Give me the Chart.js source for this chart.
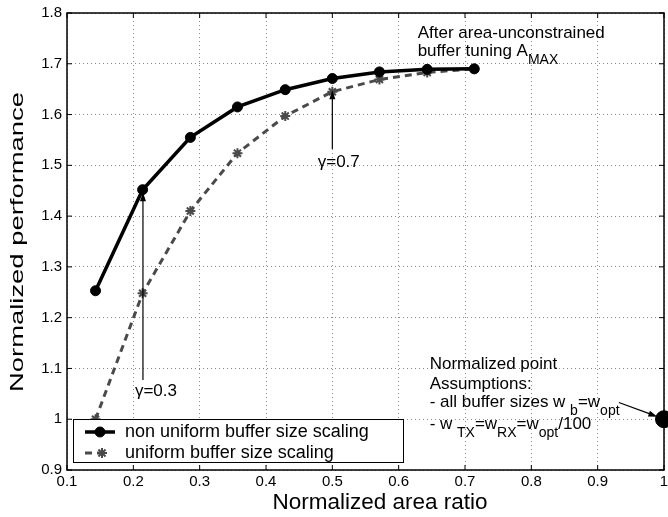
<!DOCTYPE html>
<html>
<head>
<meta charset="utf-8">
<script src="https://cdn.jsdelivr.net/npm/chart.js@4.4.1/dist/chart.umd.min.js"></script>
<style>
  html, body { margin: 0; padding: 0; background: #fff; }
</style>
</head>
<body>
<canvas id="chart" width="668" height="517"></canvas>
<script>
// data
const areaRatio = [0.143, 0.214, 0.286, 0.357, 0.429, 0.5, 0.571, 0.643, 0.714];
const nonUniformPerf = [1.253, 1.452, 1.555, 1.615, 1.649, 1.671, 1.684, 1.689, 1.69];
const uniformPerf = [1.0, 1.248, 1.41, 1.524, 1.597, 1.645, 1.669, 1.683, 1.69];
const normPointX = [1.0];
const normPointY = [1.0];

const xTicks = [0.1, 0.2, 0.3, 0.4, 0.5, 0.6, 0.7, 0.8, 0.9, 1.0];
const yTicks = [0.9, 1.0, 1.1, 1.2, 1.3, 1.4, 1.5, 1.6, 1.7, 1.8];

const seriesLabels = ["non uniform buffer size scaling", "uniform buffer size scaling"];
const xTitle = "Normalized area ratio";
const yTitle = "Normalized performance";

const FONT = "'Liberation Sans', Arial, Helvetica, sans-serif";

const fmt = (v) => String(Number(v.toFixed(1)));

// small text helper: segments are [text, isSubscript]
function drawRich(ctx, x, y, parts, size) {
  let cx = x;
  parts.forEach(([txt, sub]) => {
    ctx.font = (sub ? size - 3 : size) + "px " + FONT;
    ctx.fillText(txt, cx, sub ? y + 8 : y);
    cx += ctx.measureText(txt).width;
  });
}

function arrow(ctx, x1, y1, x2, y2) {
  const ang = Math.atan2(y2 - y1, x2 - x1);
  const len = 9, half = 3;
  ctx.beginPath();
  ctx.moveTo(x1, y1);
  ctx.lineTo(x2 - Math.cos(ang) * len * 0.8, y2 - Math.sin(ang) * len * 0.8);
  ctx.stroke();
  ctx.beginPath();
  ctx.moveTo(x2, y2);
  ctx.lineTo(x2 - Math.cos(ang) * len - Math.sin(ang) * half, y2 - Math.sin(ang) * len + Math.cos(ang) * half);
  ctx.lineTo(x2 - Math.cos(ang) * len + Math.sin(ang) * half, y2 - Math.sin(ang) * len - Math.cos(ang) * half);
  ctx.closePath();
  ctx.fill();
}

const matlabLook = {
  id: "matlabLook",
  afterDraw(chart) {
    const { ctx, chartArea: a, scales: { x, y } } = chart;
    ctx.save();
    ctx.strokeStyle = "#000";
    ctx.fillStyle = "#000";

    // box + inward ticks
    ctx.lineWidth = 1.5;
    ctx.strokeRect(a.left, a.top, a.right - a.left, a.bottom - a.top);
    ctx.lineWidth = 1;
    ctx.beginPath();
    xTicks.forEach((v) => {
      const px = x.getPixelForValue(v);
      ctx.moveTo(px, a.bottom); ctx.lineTo(px, a.bottom - 5);
      ctx.moveTo(px, a.top); ctx.lineTo(px, a.top + 5);
    });
    yTicks.forEach((v) => {
      const py = y.getPixelForValue(v);
      ctx.moveTo(a.left, py); ctx.lineTo(a.left + 5, py);
      ctx.moveTo(a.right, py); ctx.lineTo(a.right - 5, py);
    });
    ctx.stroke();

    // annotations
    const X = (v) => x.getPixelForValue(v);
    const Y = (v) => y.getPixelForValue(v);
    ctx.textBaseline = "alphabetic";
    ctx.textAlign = "left";
    drawRich(ctx, X(0.6286), Y(1.751), [["After area-unconstrained", false]], 17);
    drawRich(ctx, X(0.6286), Y(1.716), [["buffer tuning A", false], ["MAX", true]], 17);

    drawRich(ctx, X(0.478), Y(1.497), [["\u03b3=0.7", false]], 17);
    ctx.lineWidth = 1.2;
    arrow(ctx, X(0.5), Y(1.532), X(0.5), Y(1.648));

    drawRich(ctx, X(0.2024), Y(1.045), [["\u03b3=0.3", false]], 17);
    arrow(ctx, X(0.2145), Y(1.077), X(0.2145), Y(1.447));

    drawRich(ctx, X(0.6467), Y(1.098), [["Normalized point", false]], 17);
    drawRich(ctx, X(0.6467), Y(1.059), [["Assumptions:", false]], 17);
    drawRich(ctx, X(0.6467), Y(1.024), [["- all buffer sizes w ", false], ["b", true], ["=w", false], ["opt", true]], 17);
    drawRich(ctx, X(0.6467), Y(0.980), [["- w ", false], ["TX", true], ["=w", false], ["RX", true], ["=w", false], ["opt", true], ["/100", false]], 17);
    arrow(ctx, X(0.932), Y(1.033), X(0.99), Y(1.005));

    // legend box
    const lx = 73, ly = 419, lw = 330, lh = 43;
    ctx.fillStyle = "#fff";
    ctx.fillRect(lx, ly, lw, lh);
    ctx.lineWidth = 1;
    ctx.strokeStyle = "#000";
    ctx.strokeRect(lx + 0.5, ly + 0.5, lw, lh);
    const ds = chart.data.datasets;
    [432, 453].forEach((ry, i) => {
      const d = ds[i];
      ctx.strokeStyle = d.borderColor;
      ctx.lineWidth = d.borderWidth;
      ctx.setLineDash(d.borderDash || []);
      ctx.beginPath();
      ctx.moveTo(85, ry); ctx.lineTo(i === 0 ? 115 : 109, ry);
      ctx.stroke();
      ctx.setLineDash([]);
      ctx.fillStyle = d.pointBackgroundColor;
      ctx.strokeStyle = d.pointBorderColor;
      ctx.lineWidth = d.pointBorderWidth;
      Chart.helpers.drawPoint(ctx, { pointStyle: d.pointStyle, radius: d.pointRadius, borderWidth: d.pointBorderWidth, rotation: 0 }, i === 0 ? 100 : 102, ry);
      ctx.fillStyle = "#000";
      ctx.font = "18px " + FONT;
      ctx.textBaseline = "middle";
      ctx.fillText(seriesLabels[i], 125, ry);
    });

    // axis titles
    ctx.fillStyle = "#000";
    ctx.textAlign = "center";
    ctx.textBaseline = "middle";
    ctx.font = "22.5px " + FONT;
    ctx.fillText(xTitle, 380, 503);
    ctx.font = "18px " + FONT;
    const w = ctx.measureText(yTitle).width;
    ctx.translate(18, 242);
    ctx.rotate(-Math.PI / 2);
    ctx.scale(300 / w, 1);
    ctx.fillText(yTitle, 0, 0);
    ctx.restore();
  }
};

new Chart(document.getElementById("chart"), {
  type: "line",
  data: {
    datasets: [
      {
        label: seriesLabels[0],
        data: areaRatio.map((v, i) => ({ x: v, y: nonUniformPerf[i] })),
        borderColor: "#000",
        borderWidth: 3.5,
        pointStyle: "circle",
        pointRadius: 5,
        pointBackgroundColor: "#000",
        pointBorderColor: "#000",
        pointBorderWidth: 1,
        tension: 0
      },
      {
        label: seriesLabels[1],
        data: areaRatio.map((v, i) => ({ x: v, y: uniformPerf[i] })),
        borderColor: "#4a4a4a",
        borderWidth: 3,
        borderDash: [7, 5],
        pointStyle: "star",
        pointRadius: 5,
        pointBackgroundColor: "#4a4a4a",
        pointBorderColor: "#4a4a4a",
        pointBorderWidth: 2,
        tension: 0
      },
      {
        label: "normalized point",
        data: normPointX.map((v, i) => ({ x: v, y: normPointY[i] })),
        showLine: false,
        pointRadius: 8.5,
        pointBackgroundColor: "#000",
        pointBorderColor: "#000",
        clip: false
      }
    ]
  },
  options: {
    responsive: false,
    animation: false,
    devicePixelRatio: 1,
    layout: { autoPadding: false, padding: { left: 0, top: 13, right: 4, bottom: 0 } },
    plugins: { legend: { display: false }, tooltip: { enabled: false } },
    scales: {
      x: {
        type: "linear",
        min: 0.1,
        max: 1.0,
        afterBuildTicks: (s) => { s.ticks = xTicks.map((v) => ({ value: v })); },
        afterFit: (s) => { s.height = 47; s.paddingLeft = 0; s.paddingRight = 0; },
        ticks: {
          callback: (v) => fmt(v),
          font: { family: FONT, size: 15 },
          color: "#000",
          padding: 3,
          maxRotation: 0,
          autoSkip: false
        },
        grid: { color: "#8a8a8a", lineWidth: 1, drawTicks: false },
        border: { display: false, dash: [1, 3] }
      },
      y: {
        type: "linear",
        min: 0.9,
        max: 1.8,
        afterBuildTicks: (s) => { s.ticks = yTicks.map((v) => ({ value: v })); },
        afterFit: (s) => { s.width = 67; s.paddingTop = 0; s.paddingBottom = 0; },
        ticks: {
          callback: (v) => fmt(v),
          font: { family: FONT, size: 15 },
          color: "#000",
          padding: 5,
          autoSkip: false
        },
        grid: { color: "#8a8a8a", lineWidth: 1, drawTicks: false },
        border: { display: false, dash: [1, 3] }
      }
    }
  },
  plugins: [matlabLook]
});
</script>
</body>
</html>
